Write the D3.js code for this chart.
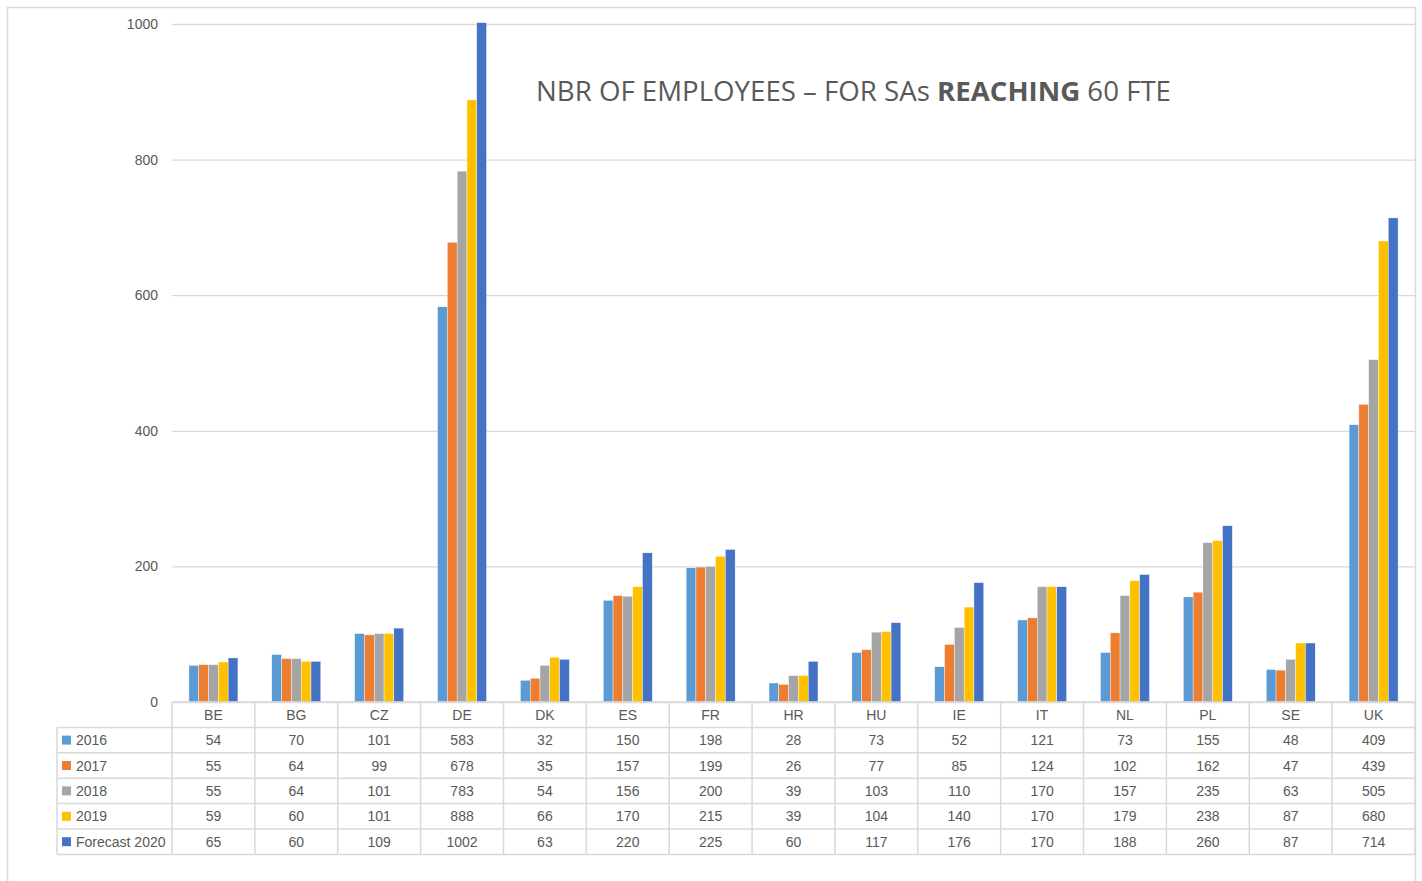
<!DOCTYPE html>
<html><head><meta charset="utf-8">
<script src="https://cdn.jsdelivr.net/npm/d3@7"></script>
<style>body{margin:0;background:#fff}svg{display:block}text{font-family:"Liberation Sans",Arial,sans-serif}</style>
</head><body><svg id="c" width="1422" height="881"></svg>
<script>
const categories=["BE","BG","CZ","DE","DK","ES","FR","HR","HU","IE","IT","NL","PL","SE","UK"];
const seriesNames=["2016","2017","2018","2019","Forecast 2020"];
const s2016=[54,70,101,583,32,150,198,28,73,52,121,73,155,48,409];
const s2017=[55,64,99,678,35,157,199,26,77,85,124,102,162,47,439];
const s2018=[55,64,101,783,54,156,200,39,103,110,170,157,235,63,505];
const s2019=[59,60,101,888,66,170,215,39,104,140,170,179,238,87,680];
const s2020=[65,60,109,1002,63,220,225,60,117,176,170,188,260,87,714];
const yTicks=[0,200,400,600,800,1000];
const colors=["#5B9BD5","#ED7D31","#A5A5A5","#FFC000","#4472C4"];
const series=[s2016,s2017,s2018,s2019,s2020];

const svg=d3.select("#c");
const grid="#d9d9d9", txt="#595959";
const L=172,R=1415,T=24,B=702;
// frame
svg.append("path").attr("d",`M7.5,881 V7.5 H1415.5 V881`).attr("fill","none").attr("stroke",grid).attr("stroke-width",1.5);

const x=d3.scaleBand().domain(categories).range([L,R]).paddingInner(0).paddingOuter(0);
const y=d3.scaleLinear().domain([0,1000]).range([B,T]);
const xi=d3.scaleBand().domain(d3.range(5)).range([0,x.bandwidth()]).paddingInner(0).paddingOuter(0.2);
const bw=49/ x.bandwidth();
xi.range([x.bandwidth()*(1-bw)/2, x.bandwidth()*(1+bw)/2]).paddingOuter(0);

// gridlines
const ya=svg.append("g").attr("transform",`translate(${L},0)`)
  .call(d3.axisLeft(y).tickValues(yTicks).tickSize(-(R-L)).tickPadding(14).tickFormat(d3.format("d")));
ya.select(".domain").remove();
ya.selectAll("line").attr("stroke",grid).attr("stroke-width",1.3);
ya.selectAll("text").attr("fill",txt).attr("font-size",14).style("font-family","Liberation Sans, Arial");

// bars
series.forEach((s,k)=>{
  svg.append("g").selectAll("rect").data(s).join("rect")
    .attr("x",(d,i)=>x(categories[i])+xi(k))
    .attr("width",xi.bandwidth())
    .attr("y",d=>y(d)).attr("height",d=>B-y(d))
    .attr("fill",colors[k]).attr("stroke","#fff").attr("stroke-width",0.4);
});

// data table
const rowH=25.4, tl=57;
const tg=svg.append("g");
const rows=seriesNames.length+1;
const tb=B+rowH*rows;
// horizontal lines
for(let r=0;r<=rows;r++){
  const yy=B+r*rowH;
  tg.append("line").attr("x1",r<1?L:tl).attr("x2",R).attr("y1",yy).attr("y2",yy).attr("stroke",grid).attr("stroke-width",1.5);
}
// vertical lines
tg.append("line").attr("x1",tl).attr("x2",tl).attr("y1",B+rowH).attr("y2",tb).attr("stroke",grid).attr("stroke-width",1.5);
categories.forEach(c=>{
  tg.append("line").attr("x1",x(c)).attr("x2",x(c)).attr("y1",B).attr("y2",tb).attr("stroke",grid).attr("stroke-width",1.5);
});
tg.append("line").attr("x1",R).attr("x2",R).attr("y1",B).attr("y2",tb).attr("stroke",grid).attr("stroke-width",1.5);
// headers
tg.selectAll("text.h").data(categories).join("text").attr("class","h")
  .attr("x",d=>x(d)+x.bandwidth()/2).attr("y",B+rowH/2).attr("dy","0.36em")
  .attr("text-anchor","middle").attr("font-size",14).attr("fill",txt).text(d=>d);
series.forEach((s,k)=>{
  const cy=B+rowH*(k+1)+rowH/2;
  tg.append("rect").attr("x",62).attr("y",cy-4.5).attr("width",9).attr("height",9).attr("fill",colors[k]);
  tg.append("text").attr("x",76).attr("y",cy).attr("dy","0.36em").attr("font-size",14).attr("fill",txt).text(seriesNames[k]);
  tg.selectAll(null).data(s).join("text")
    .attr("x",(d,i)=>x(categories[i])+x.bandwidth()/2).attr("y",cy).attr("dy","0.36em")
    .attr("text-anchor","middle").attr("font-size",14).attr("fill",txt).text(d=>d);
});

// title
const t=svg.append("text").attr("x",536).attr("y",101).attr("font-size",27).attr("fill",txt)
  .style("font-family","'Open Sans', sans-serif");
t.append("tspan").text("NBR OF EMPLOYEES – FOR SAs ");
t.append("tspan").attr("font-weight","bold").text("REACHING");
t.append("tspan").text(" 60 FTE");
t.attr("textLength",635).attr("lengthAdjust","spacingAndGlyphs");
</script></body></html>
